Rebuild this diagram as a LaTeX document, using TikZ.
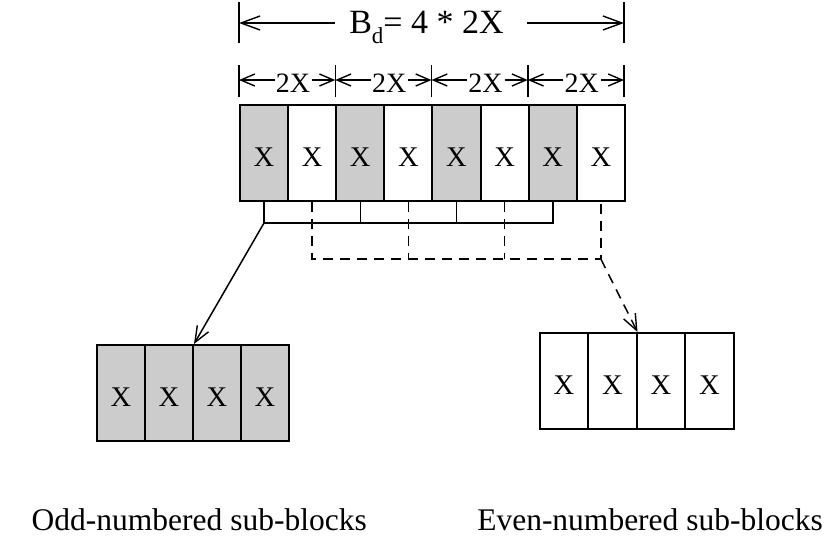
\documentclass[tikz,border=0pt]{standalone}
\usepackage{fontspec}
\setmainfont{Liberation Serif}
\usetikzlibrary{arrows.meta}
\definecolor{cellgray}{RGB}{204,204,204}
\begin{document}
\begin{tikzpicture}[x=1pt,y=-1pt,
  cell/.style={draw, line width=1.9pt, minimum width=48.1pt, minimum height=96pt,
    inner sep=0pt, anchor=north west, font=\fontsize{28.5}{32}\selectfont,
    text height=27pt, text depth=0pt},
  oddcell/.style={cell, fill=cellgray},
  evencell/.style={cell, fill=white},
  conn/.style={line width=1.5pt},
  dashconn/.style={line width=1.5pt, dash pattern=on 10pt off 7pt},
  tip/.style={-{Straight Barb[length=16pt,width=13pt,line width=1.4pt]}},
  tickline/.style={line width=1.5pt},
  bigdim/.style={line width=1.5pt, -{Straight Barb[length=19pt,width=14pt,line width=1.4pt]}},
  smalldim/.style={line width=1.5pt, -{Straight Barb[length=14pt,width=12pt,line width=1.4pt]}},
  lbl/.style={inner sep=0pt, anchor=base},
]
\useasboundingbox (0,0) rectangle (838,542);

% top row of sub-blocks
\node[oddcell]  (t1) at (239.000,104) {X};
\node[evencell] (t2) at (287.125,104) {X};
\node[oddcell]  (t3) at (335.250,104) {X};
\node[evencell] (t4) at (383.375,104) {X};
\node[oddcell]  (t5) at (431.500,104) {X};
\node[evencell] (t6) at (479.625,104) {X};
\node[oddcell]  (t7) at (527.750,104) {X};
\node[evencell] (t8) at (575.875,104) {X};

% odd block
\node[oddcell] (o1) at (96,344) {X};
\node[oddcell] (o2) at (144,344) {X};
\node[oddcell] (o3) at (192,344) {X};
\node[oddcell] (o4) at (240,344) {X};

% even block
\node[evencell] (e1) at (539.0,332) {X};
\node[evencell] (e2) at (587.5,332) {X};
\node[evencell] (e3) at (636.0,332) {X};
\node[evencell] (e4) at (684.5,332) {X};

% connector levels
\coordinate (sbar) at (0,223);
\coordinate (dbar) at (0,259);

% solid connectors (odd)
\draw[conn] (t1.south) -- (t1.south |- sbar) -- (t7.south |- sbar) -- (t7.south);
\draw[conn] (t3.south) -- (t3.south |- sbar);
\draw[conn] (t5.south) -- (t5.south |- sbar);
\draw[conn,tip] (t1.south |- sbar) -- (o2.north east);

% dashed connectors (even)
\draw[dashconn] (t2.south) -- (t2.south |- dbar) -- (t8.south |- dbar) -- (t8.south);
\draw[dashconn] (t4.south) -- (t4.south |- dbar);
\draw[dashconn] (t6.south) -- (t6.south |- dbar);
\draw[dashconn,tip] (t8.south |- dbar) -- (e2.north east);

% top dimension
\node[lbl, font=\fontsize{34}{36}\selectfont] (bd) at (426.5,33)
  {B\raisebox{-0.32em}{\fontsize{23}{24}\selectfont d}= 4 * 2X};
\coordinate (ta1) at (239,2);  \coordinate (tb1) at (239,43);
\coordinate (ta2) at (624,2);  \coordinate (tb2) at (624,43);
\draw[tickline] (ta1) -- (tb1);
\draw[tickline] (ta2) -- (tb2);
\coordinate (bdl) at (335,23); \coordinate (bdlt) at (239,23);
\coordinate (bdr) at (527,23); \coordinate (bdrt) at (624,23);
\draw[bigdim] (bdl) -- (bdlt);
\draw[bigdim] (bdr) -- (bdrt);

% second dimension row
\foreach \k/\a in {0/239, 1/335.25, 2/431.5, 3/527.75, 4/624} {
  \coordinate (ka\k) at (\a,65);
  \coordinate (kb\k) at (\a,97);
  \coordinate (km\k) at (\a,80);
  \draw[tickline] (ka\k) -- (kb\k);
}
\foreach \k/\a/\n in {1/239/0, 2/335.25/1, 3/431.5/2, 4/527.75/3} {
  \node[lbl, font=\fontsize{28}{30}\selectfont] (w\k) at (\a+54,92) {2X};
  \coordinate (wl\k) at (\a+35.5,80);
  \coordinate (wr\k) at (\a+73,80);
  \draw[smalldim] (wl\k) -- (km\n);
}
\draw[smalldim] (wr1) -- (km1);
\draw[smalldim] (wr2) -- (km2);
\draw[smalldim] (wr3) -- (km3);
\draw[smalldim] (wr4) -- (km4);

% captions
\node[inner sep=0pt, anchor=base east, font=\fontsize{31.5}{34}\selectfont] (oddlbl) at (367,530) {Odd-numbered sub-blocks};
\node[inner sep=0pt, anchor=base east, font=\fontsize{31.5}{34}\selectfont] (evenlbl) at (823,530) {Even-numbered sub-blocks};
\end{tikzpicture}
\end{document}
